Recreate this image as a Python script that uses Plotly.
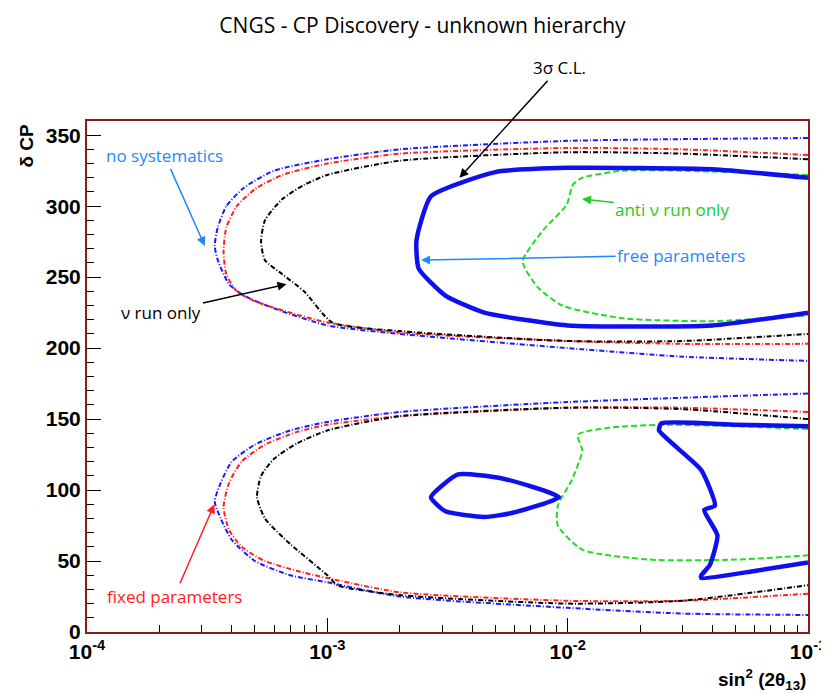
import plotly.graph_objs as go

# upper lobes (delta around 180-360), listed top branch -> tip -> bottom branch
blue_up_x = [0.1, 0.01, 2e-3, 1e-3, 6e-4, 4.5e-4, 3.8e-4, 3.5e-4, 3.4e-4, 3.5e-4, 3.9e-4, 4.5e-4, 6e-4, 1e-3, 2e-3, 0.01, 0.03, 0.1]
blue_up_y = [348, 346, 340, 333, 325, 313, 300, 285, 272, 262, 245, 237, 228, 216, 210, 200, 194, 191]
red_up_x = [0.1, 0.03, 0.01, 2e-3, 1e-3, 6.5e-4, 5e-4, 4.2e-4, 3.8e-4, 3.7e-4, 3.8e-4, 4.2e-4, 5e-4, 7e-4, 1e-3, 2e-3, 0.01, 0.03, 0.1]
red_up_y = [336, 340, 341, 337, 330, 322, 312, 300, 285, 268, 252, 240, 233, 225, 218, 211, 205, 203, 203]
black_up_x = [0.1, 0.03, 0.01, 2e-3, 1e-3, 8e-4, 6.5e-4, 5.5e-4, 5.3e-4, 5.5e-4, 6.5e-4, 8e-4, 1.05e-3, 2e-3, 0.01, 0.03, 0.1]
black_up_y = [333, 337, 338, 332, 322, 315, 305, 290, 275, 262, 252, 240, 218, 212, 205, 205, 210]

# lower lobes (delta around 0-180)
blue_lo_x = [0.1, 0.01, 2e-3, 1e-3, 7e-4, 5e-4, 4e-4, 3.6e-4, 3.4e-4, 3.6e-4, 4e-4, 5e-4, 7e-4, 1e-3, 2e-3, 0.01, 0.03, 0.1]
blue_lo_y = [168, 162, 155, 148, 142, 132, 120, 105, 92, 80, 65, 50, 40, 35, 25, 17, 13, 12]
red_lo_x = [0.1, 0.03, 0.01, 2e-3, 1e-3, 7.5e-4, 5.5e-4, 4.4e-4, 3.9e-4, 3.7e-4, 3.9e-4, 4.4e-4, 5.5e-4, 7.5e-4, 1e-3, 2e-3, 0.01, 0.03, 0.1]
red_lo_y = [155, 158, 158, 152, 146, 141, 132, 120, 105, 88, 72, 60, 50, 43, 38, 28, 22, 22, 27]
black_lo_x = [0.1, 0.03, 0.01, 2e-3, 1e-3, 7.5e-4, 6e-4, 5.3e-4, 5.1e-4, 5.5e-4, 7e-4, 1e-3, 1.1e-3, 2e-3, 0.01, 0.03, 0.1]
black_lo_y = [150, 157, 158, 152, 142, 133, 122, 110, 95, 80, 62, 40, 33, 26, 20, 22, 33]

# free parameters (solid blue)
free_up_x = [0.1, 0.04, 0.01, 5e-3, 2.7e-3, 2.35e-3, 2.4e-3, 3.1e-3, 4.5e-3, 0.01, 0.04, 0.1]
free_up_y = [320, 326, 327, 324, 307, 276, 256, 237, 225, 216, 216, 225]
free_loop_x = [2.7e-3, 3.5e-3, 5.4e-3, 9.2e-3, 5.9e-3, 4.5e-3, 3.1e-3, 2.7e-3]
free_loop_y = [95, 111, 108, 95, 84, 81, 85, 95]
free_lo_x = [0.1, 0.05, 0.0245, 0.024, 0.036, 0.041, 0.037, 0.042, 0.039, 0.036, 0.036, 0.06, 0.1]
free_lo_y = [145, 146, 147, 142, 114, 89, 86, 68, 47, 40, 38, 43, 49]

# anti-nu run only (green)
anti_up_x = [0.1, 0.03, 0.017, 0.0115, 0.0105, 0.0099, 7.9e-3, 6.5e-3, 7.5e-3, 9.5e-3, 0.017, 0.04, 0.1]
anti_up_y = [322, 325, 325, 320, 315, 301, 283, 261, 243, 230, 221, 219, 223]
anti_lo_x = [0.1, 0.05, 0.0245, 0.015, 0.011, 0.0115, 0.0104, 0.0091, 0.0091, 0.0115, 0.022, 0.05, 0.1]
anti_lo_y = [143, 145, 146, 144, 139, 128, 107, 89, 75, 58, 51, 51, 54]

fig = go.Figure()
dash = "5px,2px,1px,2px"
for xs, ys, c in [(blue_up_x, blue_up_y, "#1a1aff"), (blue_lo_x, blue_lo_y, "#1a1aff"),
                  (red_up_x, red_up_y, "#ff2020"), (red_lo_x, red_lo_y, "#ff2020"),
                  (black_up_x, black_up_y, "black"), (black_lo_x, black_lo_y, "black")]:
    fig.add_trace(go.Scatter(x=xs, y=ys, mode="lines", line=dict(color=c, width=2, dash=dash, shape="spline", smoothing=0.6)))
for xs, ys in [(anti_up_x, anti_up_y), (anti_lo_x, anti_lo_y)]:
    fig.add_trace(go.Scatter(x=xs, y=ys, mode="lines", line=dict(color="#22dd22", width=2, dash="6px,3px", shape="spline", smoothing=0.6)))
for xs, ys in [(free_up_x, free_up_y), (free_loop_x, free_loop_y), (free_lo_x, free_lo_y)]:
    fig.add_trace(go.Scatter(x=xs, y=ys, mode="lines", line=dict(color="#1010ee", width=4.5, shape="spline", smoothing=0.5)))

txt = dict(family="Open Sans, Liberation Sans", size=17)
def note(text, x, y, ax, ay, color, acolor=None):
    fig.add_annotation(x=x, y=y, xref="x", yref="y", text=text, ax=ax, ay=ay, showarrow=True,
                       arrowhead=2, arrowsize=1.2, arrowwidth=1.5, arrowcolor=acolor or color,
                       font=dict(txt, color=color))
note("3σ C.L.", -2.45, 320, 100, -110, "black")
note("no systematics", -3.51, 272, -40, -90, "#1e88ff")
note("ν run only", -3.17, 245, -125, 28, "black")
note("anti ν run only", -1.94, 305, 90, 10, "#22cc22", "#22cc22")
note("free parameters", -2.61, 262, 260, -5, "#1e88ff")
note("fixed parameters", -3.47, 90, -40, 92, "#ff2020")

tf = dict(family="Liberation Sans", size=21, color="black", weight="bold")
fig.update_layout(
    width=829, height=693, showlegend=False, plot_bgcolor="white", paper_bgcolor="white",
    margin=dict(l=79, r=29, t=113, b=69),
    title=dict(text="CNGS - CP Discovery - unknown hierarchy", x=0.5, y=0.975, xanchor="center", yanchor="middle",
               font=dict(family="Open Sans, Liberation Sans", size=21, color="black")),
    xaxis=dict(type="log", range=[-4, -1], showgrid=False, zeroline=False, mirror=True, automargin=False,
               showline=True, linecolor="#8b1a1a", linewidth=2,
               tickvals=[1e-4, 1e-3, 1e-2, 1e-1],
               ticktext=["10<sup>-4</sup>", "10<sup>-3</sup>", "10<sup>-2</sup>", "10<sup>-1</sup>"],
               ticks="inside", ticklen=14, tickcolor="black",
               minor=dict(ticks="inside", ticklen=7, tickcolor="black",
                          tickvals=[k * 10 ** e for e in (-4, -3, -2) for k in range(2, 10)]),
               tickfont=tf),
    yaxis=dict(range=[0, 360], showgrid=False, zeroline=False, mirror=True, automargin=False,
               showline=True, linecolor="#8b1a1a", linewidth=2,
               tickvals=[0, 50, 100, 150, 200, 250, 300, 350], ticks="inside", ticklen=14, tickcolor="black",
               minor=dict(ticks="inside", ticklen=7, tickcolor="black", dtick=10),
               tickfont=tf),
)
fig.add_annotation(x=1.0, y=-0.063, xref="paper", yref="paper", xanchor="right", yanchor="top",
                   text="<b>sin<sup>2</sup> (2θ<sub>13</sub>)</b>", showarrow=False,
                   font=dict(family="Liberation Sans", size=19, color="black"))
fig.add_annotation(x=-0.084, y=1.0, xref="paper", yref="paper", xanchor="center", yanchor="top",
                   text="<b>δ CP</b>", textangle=-90, showarrow=False,
                   font=dict(family="Liberation Sans", size=19, color="black"))
fig.write_html("out.html")
